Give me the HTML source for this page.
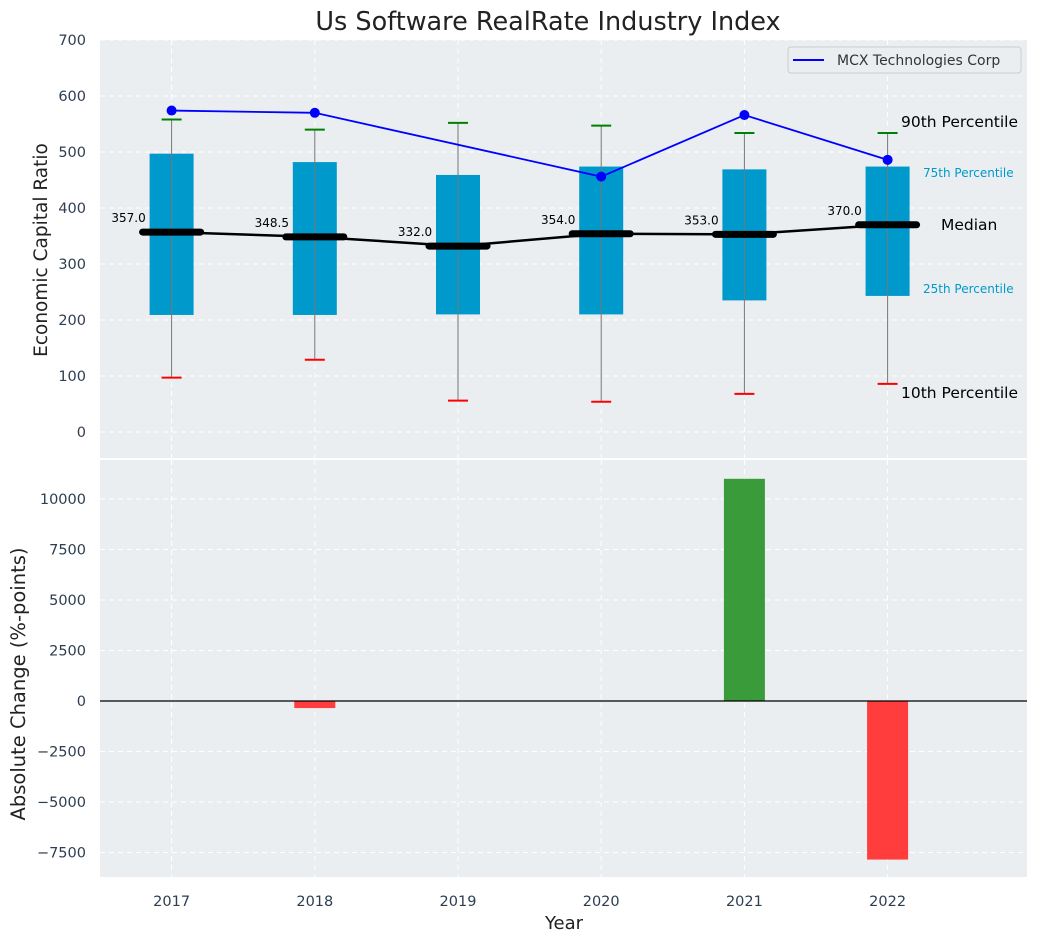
<!DOCTYPE html>
<html><head><meta charset="utf-8"><style>
body{margin:0;background:#fff;}
svg{display:block;font-family:"DejaVu Sans","Liberation Sans",sans-serif;}
</style></head><body>
<svg id="c" width="1039" height="942" xmlns="http://www.w3.org/2000/svg"></svg>
<script>
const years=[2017,2018,2019,2020,2021,2022];
const p10=[97,129,56,54,68,86];
const p25=[209,209,210,210,235,243];
const median=[357,348.5,332,354,353,370];
const p75=[497,482,459,474,469,474];
const p90=[558,540,552,547,534,534];
const mcx=[574,570,null,456,566,486];
const change=[0,-350,0,0,11000,-7850];
const topTicks=[0,100,200,300,400,500,600,700];
const botTicks=[-7500,-5000,-2500,0,2500,5000,7500,10000];

const NS="http://www.w3.org/2000/svg";
const svg=document.getElementById('c');
function el(t,a,txt){const e=document.createElementNS(NS,t);for(const k in a)e.setAttribute(k,a[k]);if(txt!=null)e.textContent=txt;svg.appendChild(e);return e;}
const X=v=>100+(v-2016.5)*143.2;
const YT=v=>432-v*0.56;
const YB=v=>701-v*0.0202;
const L=100,R=1027;

let e;
e=el('rect',{x:L,y:40,width:R-L,height:418,fill:'#eaeef0'});

e=el('rect',{x:L,y:460,width:R-L,height:417,fill:'#eaeef0'});


topTicks.forEach(t=>{
 e=el('line',{x1:L,x2:R,y1:YT(t),y2:YT(t),stroke:'#fff','stroke-dasharray':'5,4','stroke-width':1});
 
 e=el('text',{x:86,y:YT(t)+5,'text-anchor':'end','font-size':14.5,fill:'#2c3e50'},t);
 
});
botTicks.forEach(t=>{
 e=el('line',{x1:L,x2:R,y1:YB(t),y2:YB(t),stroke:'#fff','stroke-dasharray':'5,4','stroke-width':1});
 
 e=el('text',{x:86,y:YB(t)+5,'text-anchor':'end','font-size':14.5,fill:'#2c3e50'},t<0?'\u2212'+(-t):t);
 
});
years.forEach(y=>{
 e=el('line',{x1:X(y),x2:X(y),y1:40,y2:458,stroke:'#fff','stroke-dasharray':'5,4'});
 
 e=el('line',{x1:X(y),x2:X(y),y1:460,y2:877,stroke:'#fff','stroke-dasharray':'5,4'});
 
 e=el('text',{x:X(y),y:906,'text-anchor':'middle','font-size':14.5,fill:'#2c3e50'},y);
 
});

years.forEach((y,i)=>{
 const cx=X(y);
 e=el('rect',{x:cx-22,y:YT(p75[i]),width:44,height:YT(p25[i])-YT(p75[i]),fill:'#0099cc'});
 
 e=el('line',{x1:cx,x2:cx,y1:YT(p90[i]),y2:YT(p10[i]),stroke:'#777','stroke-width':1});
 
 e=el('line',{x1:cx-10,x2:cx+10,y1:YT(p90[i]),y2:YT(p90[i]),stroke:'green','stroke-width':2});
 
 e=el('line',{x1:cx-10,x2:cx+10,y1:YT(p10[i]),y2:YT(p10[i]),stroke:'red','stroke-width':2});
 
});
e=el('polyline',{points:years.map((y,i)=>X(y)+','+YT(median[i])).join(' '),fill:'none',stroke:'#000','stroke-width':2.5});

years.forEach((y,i)=>{
 e=el('line',{x1:X(y)-29,x2:X(y)+29,y1:YT(median[i]),y2:YT(median[i]),stroke:'#000','stroke-width':7,'stroke-linecap':'round'});
 
 e=el('text',{x:X(y)-43,y:YT(median[i])-10,'text-anchor':'middle','font-size':12,fill:'#000'},median[i].toFixed(1));
 
});
const pts=years.map((y,i)=>mcx[i]==null?null:[X(y),YT(mcx[i])]).filter(p=>p);
e=el('polyline',{points:pts.map(p=>p.join(',')).join(' '),fill:'none',stroke:'blue','stroke-width':1.8});

pts.forEach(p=>{e=el('circle',{cx:p[0],cy:p[1],r:5,fill:'blue'});
 });

const ann=[[901,127,'90th Percentile',15.5,'#000'],[923,177,'75th Percentile',12,'#0099cc'],[941,230,'Median',15.5,'#000'],[923,293,'25th Percentile',12,'#0099cc'],[901,398,'10th Percentile',15.5,'#000']];
ann.forEach(a=>{e=el('text',{x:a[0],y:a[1],'font-size':a[3],fill:a[4]},a[2]);
 });

e=el('rect',{x:788,y:47,width:233,height:26,rx:3,fill:'#eaeef0',stroke:'#ccc'});

e=el('line',{x1:793,x2:824,y1:60,y2:60,stroke:'blue','stroke-width':2});

e=el('text',{x:837,y:65,'font-size':14,fill:'#333'},'MCX Technologies Corp');


years.forEach((y,i)=>{
 const v=change[i]; if(!v) return;
 e=el('rect',{x:X(y)-20.5,y:Math.min(YB(v),YB(0)),width:41,height:Math.abs(YB(v)-YB(0)),fill:v>0?'#3a9b3a':'#ff3d3d'});
 
});
e=el('line',{x1:L,x2:R,y1:YB(0),y2:YB(0),stroke:'#000','stroke-width':1.2});


e=el('text',{x:548,y:30,'text-anchor':'middle','font-size':25.5,fill:'#222'},'Us Software RealRate Industry Index');

e=el('text',{x:0,y:0,'text-anchor':'middle','font-size':18.5,fill:'#222',transform:'translate(47,250) rotate(-90)'},'Economic Capital Ratio');

e=el('text',{x:0,y:0,'text-anchor':'middle','font-size':19.5,fill:'#222',transform:'translate(25,684) rotate(-90)'},'Absolute Change (%-points)');

e=el('text',{x:564,y:929,'text-anchor':'middle','font-size':18,fill:'#222'},'Year');

</script>
</body></html>
